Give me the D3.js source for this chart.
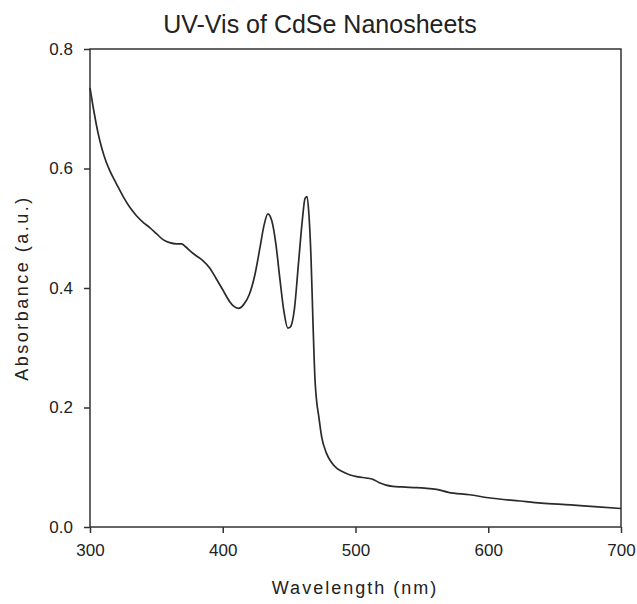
<!DOCTYPE html>
<html>
<head>
<meta charset="utf-8">
<script src="https://cdn.jsdelivr.net/npm/d3@7"></script>
<style>
  body { margin: 0; background: #fff; }
  text { font-family: "Liberation Sans", Arial, sans-serif; fill: #222; }
</style>
</head>
<body>
<div id="chart"></div>
<script>
// spectrum
var wavelength = [300, 303, 306, 309, 312, 315, 320, 325, 330, 335, 340, 345, 350, 355, 360, 365, 369, 372, 376, 380,
                  385, 390, 395, 400, 405, 408, 412, 416, 420, 424, 428, 431, 434, 437, 440, 443, 446, 449, 451, 454,
                  457, 460, 462, 463.5, 465, 466.5, 468, 469.5, 471, 472, 474.5, 478, 482, 486, 490, 496, 502, 508, 513, 518,
                  523, 528, 535, 544, 552, 561, 570, 586, 600, 624, 640, 662, 680, 700];
var absorbance = [0.735, 0.695, 0.660, 0.633, 0.612, 0.596, 0.574, 0.553, 0.535, 0.521, 0.510, 0.501, 0.491, 0.481, 0.476, 0.474, 0.474, 0.469, 0.461, 0.454,
                  0.446, 0.434, 0.416, 0.397, 0.378, 0.370, 0.366, 0.373, 0.389, 0.420, 0.467, 0.504, 0.524, 0.512, 0.474, 0.416, 0.362, 0.333, 0.335, 0.365,
                  0.440, 0.515, 0.550, 0.553, 0.520, 0.450, 0.340, 0.246, 0.205, 0.190, 0.151, 0.124, 0.108, 0.098, 0.093, 0.087, 0.084, 0.082, 0.080, 0.074,
                  0.070, 0.068, 0.067, 0.066, 0.065, 0.063, 0.058, 0.054, 0.049, 0.0435, 0.040, 0.037, 0.034, 0.031];
var xTicks = [300, 400, 500, 600, 700];
var yTicks = [0.0, 0.2, 0.4, 0.6, 0.8];

var margin = {top: 49, right: 16, bottom: 77, left: 90},
    width = 637 - margin.left - margin.right,
    height = 604 - margin.top - margin.bottom;

var svg = d3.select("#chart")
    .append("svg")
    .attr("width", 637)
    .attr("height", 604);

var g = svg.append("g")
    .attr("transform", "translate(" + margin.left + "," + margin.top + ")");

var x = d3.scaleLinear().domain([300, 700]).range([0, width]);
var y = d3.scaleLinear().domain([0, 0.8]).range([height, 0]);

var data = wavelength.map(function(w, i) { return {w: w, a: absorbance[i]}; });

// frame
g.append("rect")
    .attr("width", width)
    .attr("height", height)
    .style("fill", "none")
    .style("stroke", "#333")
    .style("stroke-width", 1.5);

var xAxis = g.append("g")
    .attr("transform", "translate(0," + height + ")")
    .call(d3.axisBottom(x).tickValues(xTicks).tickSize(6).tickPadding(11).tickFormat(d3.format("d")));

var yAxis = g.append("g")
    .call(d3.axisLeft(y).tickValues(yTicks).tickSize(6).tickPadding(11).tickFormat(d3.format(".1f")));

[xAxis, yAxis].forEach(function(a) {
  a.select(".domain").remove();
  a.selectAll("line").style("stroke", "#333").style("stroke-width", 1.5);
  a.selectAll("text").style("font-size", "17px").style("fill", "#222")
    .style("font-family", "'Liberation Sans', Arial, sans-serif");
});

var line = d3.line()
    .x(function(d) { return x(d.w); })
    .y(function(d) { return y(d.a); })
    .curve(d3.curveMonotoneX);

g.append("path")
    .datum(data)
    .attr("d", line)
    .style("fill", "none")
    .style("stroke", "#2a2a2a")
    .style("stroke-width", 1.7);

svg.append("text")
    .attr("x", 320)
    .attr("y", 33)
    .attr("text-anchor", "middle")
    .style("font-size", "25px")
    .text("UV-Vis of CdSe Nanosheets");

svg.append("text")
    .attr("x", 355)
    .attr("y", 594)
    .attr("text-anchor", "middle")
    .style("font-size", "18px")
    .style("letter-spacing", "2px")
    .text("Wavelength (nm)");

svg.append("text")
    .attr("transform", "translate(28," + 288 + ") rotate(-90)")
    .attr("text-anchor", "middle")
    .style("font-size", "18px")
    .style("letter-spacing", "2.5px")
    .text("Absorbance (a.u.)");
</script>
</body>
</html>
